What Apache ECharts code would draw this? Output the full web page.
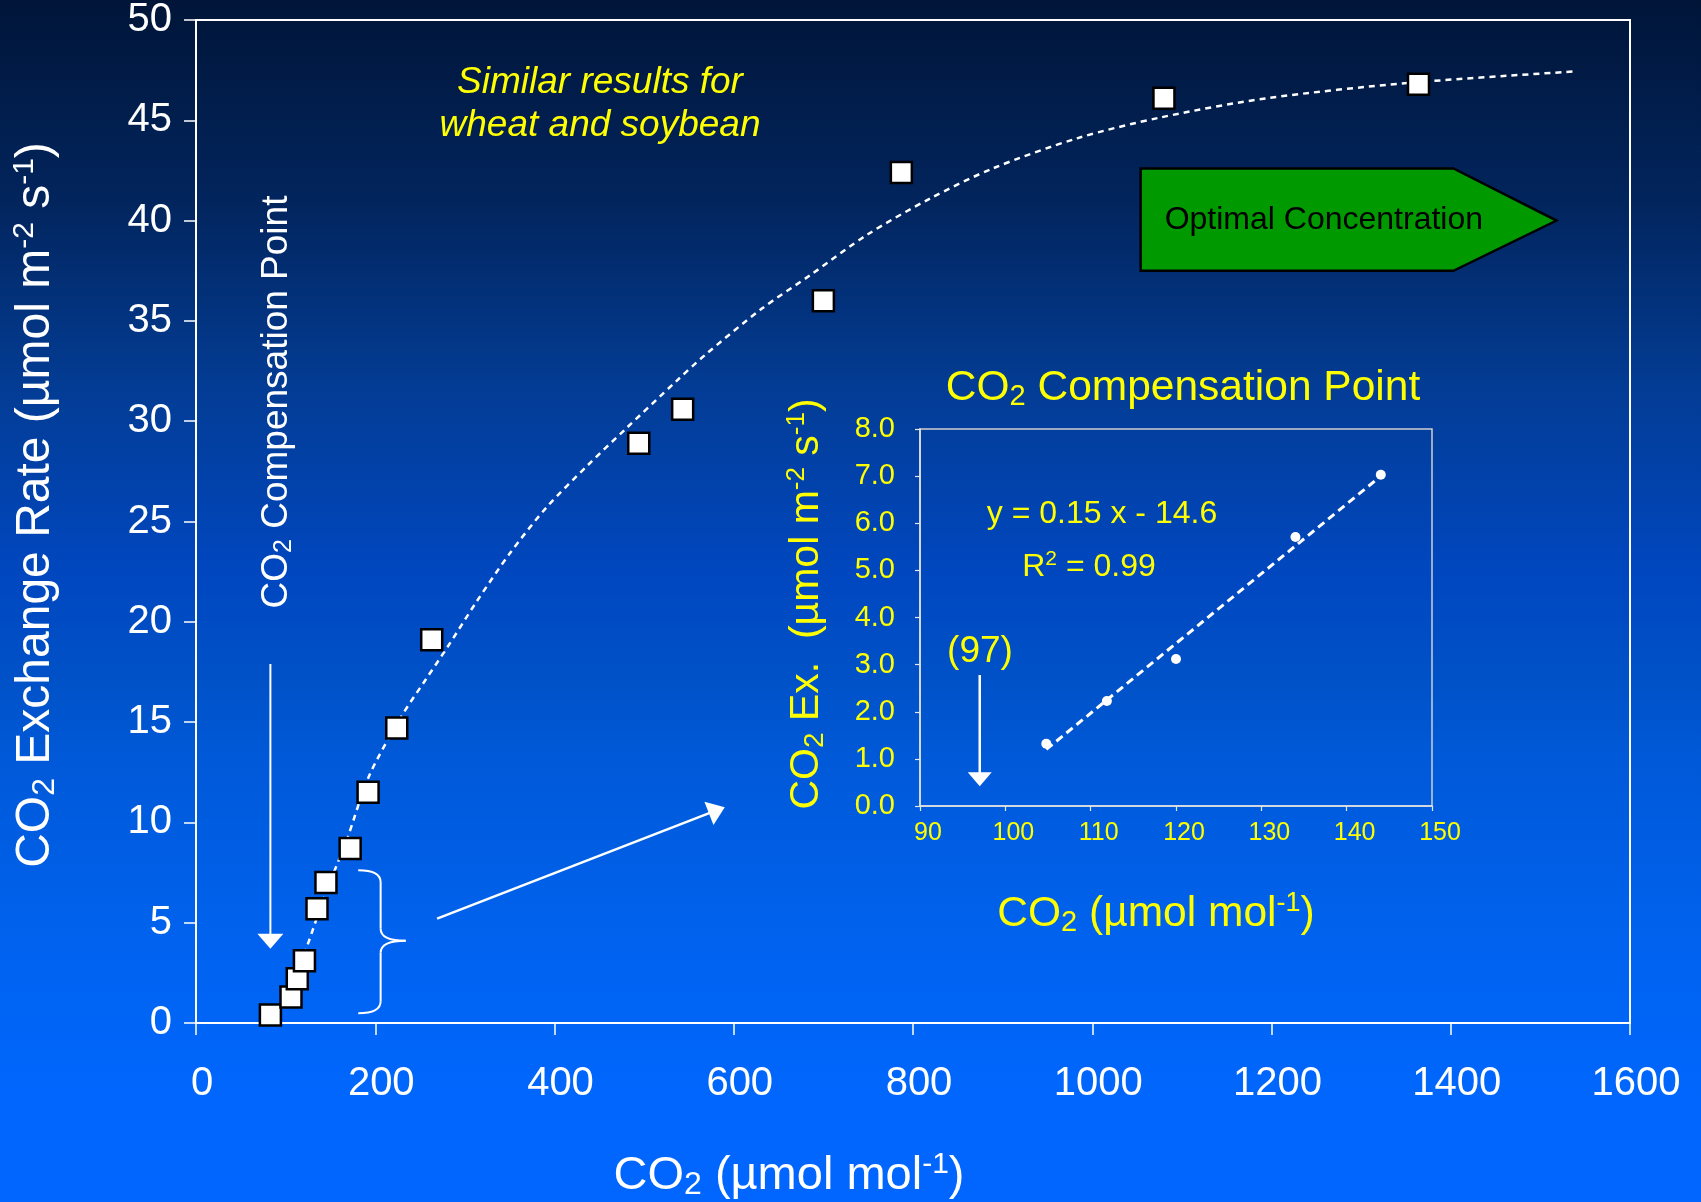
<!DOCTYPE html>
<html>
<head>
<meta charset="utf-8">
<script src="https://cdn.jsdelivr.net/npm/echarts@6/dist/echarts.min.js"></script>
<style>
html,body{margin:0;padding:0;background:#0066ff;}
#c{width:1701px;height:1202px;}
</style>
</head>
<body>
<div id="c"></div>
<script>
// ---- Main chart data (CO2 µmol mol-1 vs CO2 exchange rate) ----
const mainX = [83, 106, 113, 121, 135, 145, 172, 192, 224, 263, 494, 543, 700, 787, 1080, 1364];
const mainY = [0.4, 1.3, 2.2, 3.1, 5.7, 7.0, 8.7, 11.5, 14.7, 19.1, 28.9, 30.6, 36.0, 42.4, 46.1, 46.8];
// dashed fitted curve
const fitX = [116, 123, 144, 168, 193, 228, 256, 280, 313, 350, 391, 437, 479, 536, 568, 631, 686, 749, 819, 889, 983, 1077, 1195, 1352, 1540];
const fitY = [2.9, 3.7, 6.4, 9.1, 12.3, 15.2, 17.1, 18.7, 21.0, 23.4, 25.7, 27.8, 29.6, 32.0, 33.3, 35.6, 37.3, 39.3, 41.1, 42.6, 44.1, 45.15, 46.1, 46.86, 47.44];
// main axes ticks
const mainXTicks = {min: 0, max: 1600, interval: 200};
const mainYTicks = {min: 0, max: 50, interval: 5};

// ---- Inset (CO2 compensation point) ----
const insetX = [104.8, 111.9, 120.0, 134.0, 144.0];
const insetY = [1.32, 2.23, 3.12, 5.71, 7.03];
const insetFitX = [104.8, 144.0];
const insetFitY = [1.2, 7.0];
const insetXTicks = {min: 90, max: 150, interval: 10};
const insetYTicks = {min: 0, max: 8, interval: 1};

// ---- Annotation anchors in data units ----
const compArrow = {x: 83, yFrom: 17.9, yTo: 3.7};          // main grid
const linkArrow = {from: [269, 5.2], to: [590, 10.76]};     // main grid
const insetArrow = {x: 97, yFrom: 2.78, yTo: 0.42};         // inset grid
const brace = {xLeft: 181, xSpine: 206, xTip: 234, yTop: 7.62, yMid: 4.1, yBot: 0.48};
const optimal = {xLeft: 1054, xFlat: 1403, xTip: 1518, yTop: 42.6, yMid: 40.0, yBot: 37.5};

const FONT = "'Liberation Sans', Arial, Helvetica, sans-serif";
const YEL = '#ffff00';

const chart = echarts.init(document.getElementById('c'), null, {renderer: 'canvas'});

const bg = {
  type: 'linear', x: 0, y: 0, x2: 0, y2: 1,
  colorStops: [
    {offset: 0, color: '#001538'},
    {offset: 0.17, color: '#02255e'},
    {offset: 0.32, color: '#033c94'},
    {offset: 0.48, color: '#0047c0'},
    {offset: 0.57, color: '#0052c8'},
    {offset: 0.63, color: '#0059d8'},
    {offset: 0.78, color: '#0062ee'},
    {offset: 0.9, color: '#0066fc'},
    {offset: 1, color: '#0066ff'}
  ]
};

const zip = (a, b) => a.map((v, i) => [v, b[i]]);

chart.setOption({
  animation: false,
  backgroundColor: bg,
  grid: [
    {left: 196, top: 18, width: 1434, height: 1005, show: true, borderColor: '#ffffff', borderWidth: 2, backgroundColor: 'transparent'},
    {left: 920, top: 429, width: 512, height: 377, show: true, borderColor: '#d0d0d0', borderWidth: 1.5, backgroundColor: 'transparent'}
  ],
  xAxis: [
    {
      type: 'value', gridIndex: 0, min: mainXTicks.min, max: mainXTicks.max, interval: mainXTicks.interval,
      axisLine: {show: true, lineStyle: {color: '#fff', width: 2}},
      axisTick: {show: true, inside: false, length: 12, lineStyle: {color: '#fff', width: 1.5}},
      axisLabel: {color: '#fff', fontSize: 40, fontFamily: FONT, margin: 41, padding: [0, 0, 0, 12], formatter: v => String(v)},
      splitLine: {show: false}
    },
    {
      type: 'value', gridIndex: 1, min: insetXTicks.min, max: insetXTicks.max, interval: insetXTicks.interval,
      axisLine: {show: true, lineStyle: {color: '#e6e6e6', width: 1.5}},
      axisTick: {show: true, inside: false, length: 5, lineStyle: {color: '#e6e6e6', width: 1.2}},
      axisLabel: {color: YEL, fontSize: 25, fontFamily: FONT, margin: 15, padding: [0, 0, 0, 16], formatter: v => String(v)},
      splitLine: {show: false}
    }
  ],
  yAxis: [
    {
      type: 'value', gridIndex: 0, min: mainYTicks.min, max: mainYTicks.max, interval: mainYTicks.interval,
      axisLine: {show: true, lineStyle: {color: '#fff', width: 2}},
      axisTick: {show: true, inside: false, length: 12, lineStyle: {color: '#fff', width: 1.5}},
      axisLabel: {color: '#fff', fontSize: 40, fontFamily: FONT, margin: 24, padding: [9, 0, 0, 0]},
      splitLine: {show: false}
    },
    {
      type: 'value', gridIndex: 1, min: insetYTicks.min, max: insetYTicks.max, interval: insetYTicks.interval,
      axisLine: {show: true, lineStyle: {color: '#e6e6e6', width: 1.5}},
      axisTick: {show: true, inside: false, length: 5, lineStyle: {color: '#e6e6e6', width: 1.2}},
      axisLabel: {color: YEL, fontSize: 29, fontFamily: FONT, margin: 25, padding: [16, 0, 0, 0], formatter: v => v.toFixed(1)},
      splitLine: {show: false}
    }
  ],
  series: [
    {
      type: 'line', xAxisIndex: 0, yAxisIndex: 0, data: zip(fitX, fitY), smooth: 0.3,
      showSymbol: false, symbol: 'none', z: 2,
      lineStyle: {color: '#fff', width: 2.5, type: [6, 5]}
    },
    {
      type: 'scatter', xAxisIndex: 0, yAxisIndex: 0, data: zip(mainX, mainY), z: 3,
      symbol: 'rect', symbolSize: 21,
      itemStyle: {color: '#ffffff', borderColor: '#000000', borderWidth: 2.5, opacity: 1}
    },
    {
      type: 'line', xAxisIndex: 1, yAxisIndex: 1, data: zip(insetFitX, insetFitY),
      showSymbol: false, symbol: 'none', z: 2,
      lineStyle: {color: '#fff', width: 3, type: [8, 5]}
    },
    {
      type: 'scatter', xAxisIndex: 1, yAxisIndex: 1, data: zip(insetX, insetY), z: 3,
      symbol: 'circle', symbolSize: 10,
      itemStyle: {color: '#ffffff', opacity: 1}
    }
  ]
});

// ---- annotations positioned through the chart's own scales ----
const P0 = p => chart.convertToPixel({gridIndex: 0}, p);
const P1 = p => chart.convertToPixel({gridIndex: 1}, p);

function arrow(a, b, headLen, headW, lw) {
  const dx = b[0] - a[0], dy = b[1] - a[1];
  const len = Math.sqrt(dx * dx + dy * dy);
  const ux = dx / len, uy = dy / len;
  const bx = b[0] - ux * headLen, by = b[1] - uy * headLen;
  const nx = -uy, ny = ux;
  return [
    {type: 'line', silent: true, z: 10, shape: {x1: a[0], y1: a[1], x2: bx + ux, y2: by + uy}, style: {stroke: '#fff', lineWidth: lw}},
    {type: 'polygon', silent: true, z: 10, shape: {points: [b, [bx + nx * headW / 2, by + ny * headW / 2], [bx - nx * headW / 2, by - ny * headW / 2]]}, style: {fill: '#fff'}}
  ];
}

const g = [];
g.push(...arrow(P0([compArrow.x, compArrow.yFrom]), P0([compArrow.x, compArrow.yTo]), 15, 26, 2));
g.push(...arrow(P0(linkArrow.from), P0(linkArrow.to), 17, 25, 2.5));
g.push(...arrow(P1([insetArrow.x, insetArrow.yFrom]), P1([insetArrow.x, insetArrow.yTo]), 14, 24, 2.5));

// brace "}"
{
  const t = P0([brace.xLeft, brace.yTop]), s1 = P0([brace.xSpine, brace.yTop]);
  const m = P0([brace.xTip, brace.yMid]);
  const b = P0([brace.xLeft, brace.yBot]);
  const L = t[0], S = s1[0], T = m[0];
  const yT = t[1], yM = m[1], yB = b[1];
  const r = 12;
  const st = {stroke: '#fff', lineWidth: 2, fill: null};
  const qc = (x1, y1, cx, cy, x2, y2) => ({type: 'bezierCurve', silent: true, z: 10, shape: {x1, y1, cpx1: cx, cpy1: cy, x2, y2}, style: st});
  const ln = (x1, y1, x2, y2) => ({type: 'line', silent: true, z: 10, shape: {x1, y1, x2, y2}, style: st});
  g.push(qc(L, yT, S, yT, S, yT + r));
  g.push(ln(S, yT + r, S, yM - r));
  g.push(qc(S, yM - r, S, yM, T, yM));
  g.push(qc(T, yM, S, yM, S, yM + r));
  g.push(ln(S, yM + r, S, yB - r));
  g.push(qc(S, yB - r, S, yB, L, yB));
}

// green "Optimal Concentration" arrow box
{
  const a = P0([optimal.xLeft, optimal.yTop]);
  const bq = P0([optimal.xFlat, optimal.yTop]);
  const c = P0([optimal.xTip, optimal.yMid]);
  const d = P0([optimal.xFlat, optimal.yBot]);
  const e = P0([optimal.xLeft, optimal.yBot]);
  g.push({type: 'polygon', silent: true, z: 9, shape: {points: [a, bq, c, d, e]}, style: {fill: '#009900', stroke: '#000', lineWidth: 2.5}});
  g.push({type: 'text', silent: true, z: 11, x: a[0] + 24, y: c[1],
    style: {text: 'Optimal Concentration', fill: '#000', fontSize: 32, fontFamily: FONT, align: 'left', verticalAlign: 'middle'}});
}

function richText(n, sub, sup, fill) {
  return {
    n: {fontSize: n, fontFamily: FONT, fill: fill, verticalAlign: 'middle'},
    s: {fontSize: sub, fontFamily: FONT, fill: fill, verticalAlign: 'middle', padding: [Math.round(sub * 0.6), 0, 0, 0]},
    p: {fontSize: sup, fontFamily: FONT, fill: fill, verticalAlign: 'middle', padding: [0, 0, Math.round(sup * 0.75), 0]}
  };
}

// main axis titles
g.push({type: 'text', silent: true, z: 11, x: 36, y: 505, rotation: Math.PI / 2,
  style: {text: '{n|CO}{s|2}{n| Exchange Rate (µmol m}{p|-2}{n| s}{p|-1}{n|)}', rich: richText(48, 32, 30, '#fff'),
    fill: '#fff', fontSize: 48, fontFamily: FONT, align: 'center', verticalAlign: 'middle'}});
g.push({type: 'text', silent: true, z: 11, x: 789, y: 1176,
  style: {text: '{n|CO}{s|2}{n| (µmol mol}{p|-1}{n|)}', rich: richText(47, 32, 30, '#fff'),
    fill: '#fff', fontSize: 47, fontFamily: FONT, align: 'center', verticalAlign: 'middle'}});

// vertical annotation
g.push({type: 'text', silent: true, z: 11, x: 277, y: 402, rotation: Math.PI / 2,
  style: {text: '{n|CO}{s|2}{n| Compensation Point}', rich: richText(37, 25, 23, '#fff'),
    fill: '#fff', fontSize: 37, fontFamily: FONT, align: 'center', verticalAlign: 'middle'}});

// italic yellow note
g.push({type: 'text', silent: true, z: 11, x: 600, y: 104,
  style: {text: 'Similar results for\nwheat and soybean', fill: YEL, fontSize: 37, fontStyle: 'italic', fontFamily: FONT,
    lineHeight: 43, align: 'center', verticalAlign: 'middle'}});

// inset texts
g.push({type: 'text', silent: true, z: 11, x: 1183, y: 388,
  style: {text: '{n|CO}{s|2}{n| Compensation Point}', rich: richText(42.5, 29, 27, YEL),
    fill: YEL, fontSize: 42.5, fontFamily: FONT, align: 'center', verticalAlign: 'middle'}});
g.push({type: 'text', silent: true, z: 11, x: 807, y: 604, rotation: Math.PI / 2,
  style: {text: '{n|CO}{s|2}{n| Ex.  (µmol m}{p|-2}{n| s}{p|-1}{n|)}', rich: richText(41, 28, 26, YEL),
    fill: YEL, fontSize: 41, fontFamily: FONT, align: 'center', verticalAlign: 'middle'}});
g.push({type: 'text', silent: true, z: 11, x: 1156, y: 914,
  style: {text: '{n|CO}{s|2}{n| (µmol mol}{p|-1}{n|)}', rich: richText(42.5, 29, 27, YEL),
    fill: YEL, fontSize: 42.5, fontFamily: FONT, align: 'center', verticalAlign: 'middle'}});
g.push({type: 'text', silent: true, z: 11, x: 1102, y: 514,
  style: {text: 'y = 0.15 x - 14.6', fill: YEL, fontSize: 32, fontFamily: FONT, align: 'center', verticalAlign: 'middle'}});
g.push({type: 'text', silent: true, z: 11, x: 1089, y: 567,
  style: {text: '{n|R}{p|2}{n| = 0.99}', rich: richText(32, 21, 21, YEL),
    fill: YEL, fontSize: 32, fontFamily: FONT, align: 'center', verticalAlign: 'middle'}});
g.push({type: 'text', silent: true, z: 11, x: 980, y: 652,
  style: {text: '(97)', fill: YEL, fontSize: 37, fontFamily: FONT, align: 'center', verticalAlign: 'middle'}});

chart.setOption({graphic: g});
</script>
</body>
</html>
